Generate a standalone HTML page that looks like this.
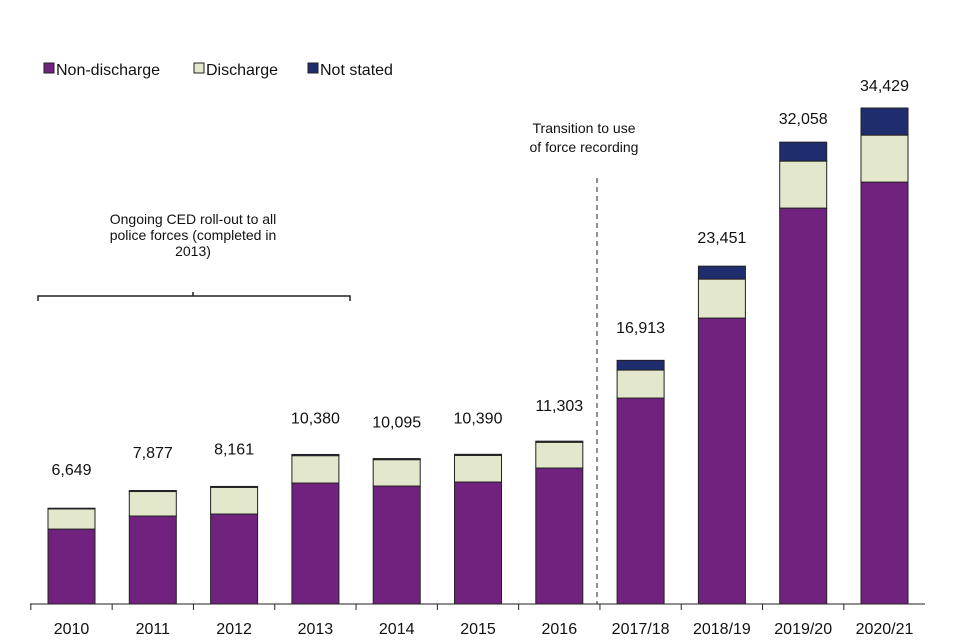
<!DOCTYPE html>
<html><head><meta charset="utf-8"><style>
body{margin:0;background:#fff}
svg{display:block;font-family:"Liberation Sans",Arial,sans-serif}
</style></head><body>
<svg id="chart" width="960" height="640">
<g id="legend">
 <g><rect x="44" y="63" width="10" height="10" fill="#70227E" stroke="#222"/><text x="56" y="75" font-size="16" fill="#111">Non-discharge</text></g>
 <g><rect x="194" y="63" width="10" height="10" fill="#E3E7CC" stroke="#222"/><text x="206" y="75" font-size="16" fill="#111">Discharge</text></g>
 <g><rect x="308" y="63" width="10" height="10" fill="#1F2C6E" stroke="#222"/><text x="320" y="75" font-size="16" fill="#111">Not stated</text></g>
</g>
<g>
 <text x="193" y="224" font-size="14" text-anchor="middle" fill="#111">Ongoing CED roll-out to all</text>
 <text x="193" y="240" font-size="14" text-anchor="middle" fill="#111">police forces (completed in</text>
 <text x="193" y="256" font-size="14" text-anchor="middle" fill="#111">2013)</text>
 <path d="M38,301 V296 H350 V301 M193,296 V292" fill="none" stroke="#222" stroke-width="1.5"/>
</g>
<g>
 <text x="584" y="133" font-size="14" text-anchor="middle" fill="#111">Transition to use</text>
 <text x="584" y="152" font-size="14" text-anchor="middle" fill="#111">of force recording</text>
 <line x1="597" y1="178" x2="597" y2="604" stroke="#222" stroke-dasharray="5,4"/>
</g>
<g id="bars"></g>
<line x1="30" y1="604" x2="925" y2="604" stroke="#222"/>
<g id="ticks"></g>
</svg>
<script>
const categories=["2010","2011","2012","2013","2014","2015","2016","2017/18","2018/19","2019/20","2020/21"];
const nonDischarge=[5200,6107,6245,8397,8189,8466,9438,14296,19847,27481,29285];
const discharge=[1400,1700,1850,1900,1830,1850,1790,1943,2706,3262,3262];
const notStated=[49,70,66,83,76,74,75,674,898,1315,1882];
const totalLabels=["6,649","7,877","8,161","10,380","10,095","10,390","11,303","16,913","23,451","32,058","34,429"];
const NS="http://www.w3.org/2000/svg";
const y0=604, yMax=34429, yTop=108;
function y(v){return y0-v*(y0-yTop)/yMax;}
function xc(i){return 71.5+i*81.3;}
const bw=47;
const bars=document.getElementById('bars'), ticks=document.getElementById('ticks');
const series=[[nonDischarge,"#70227E","non-discharge"],[discharge,"#E3E7CC","discharge"],[notStated,"#1F2C6E","not-stated"]];
categories.forEach((c,i)=>{
 let cum=0;
 series.forEach(([arr,col,nm])=>{
  const r=document.createElementNS(NS,'rect');
  r.setAttribute('x',xc(i)-bw/2);r.setAttribute('width',bw);
  r.setAttribute('y',y(cum+arr[i]));r.setAttribute('height',y(cum)-y(cum+arr[i]));
  r.setAttribute('fill',col);r.setAttribute('stroke','#222');r.setAttribute('stroke-width','1');
  
  
  bars.appendChild(r);cum+=arr[i];
 });
 const t=document.createElementNS(NS,'text');
 const top=y(cum);
 t.setAttribute('x',xc(i));t.setAttribute('y',top-(17+(top-108)/25));
 t.setAttribute('text-anchor','middle');t.setAttribute('font-size','16');t.setAttribute('fill','#111');
 t.textContent=totalLabels[i];
 
 
 bars.appendChild(t);
 const l=document.createElementNS(NS,'text');
 l.setAttribute('x',xc(i));l.setAttribute('y',634);l.setAttribute('text-anchor','middle');
 l.setAttribute('font-size','16');l.setAttribute('fill','#111');l.textContent=c;
 
 
 ticks.appendChild(l);
 const tk=document.createElementNS(NS,'line');
 const tx=xc(i)-40.65;
 tk.setAttribute('x1',tx);tk.setAttribute('x2',tx);tk.setAttribute('y1',604);tk.setAttribute('y2',610);tk.setAttribute('stroke','#222');
 
 
 ticks.appendChild(tk);
});
</script>
</body></html>
